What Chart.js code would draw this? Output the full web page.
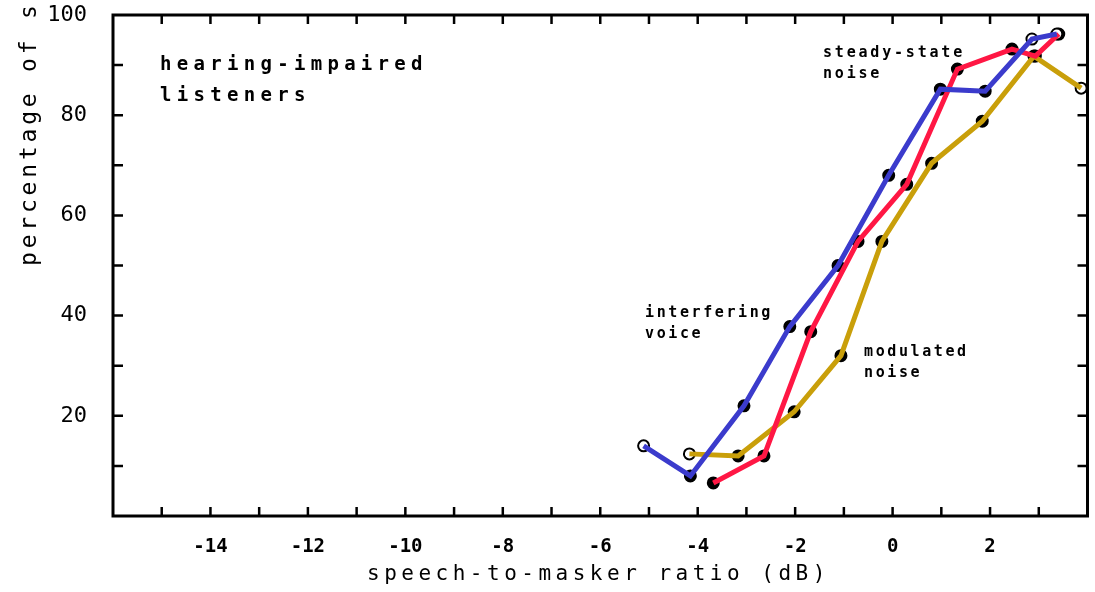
<!DOCTYPE html>
<html>
<head>
<meta charset="utf-8">
<script src="https://cdn.jsdelivr.net/npm/chart.js@4/dist/chart.umd.min.js"></script>
<style>
  html, body { margin: 0; padding: 0; background: #fff; }
  #wrap { width: 1095px; height: 592px; position: relative; }
</style>
</head>
<body>
<div id="wrap"><canvas id="smrChart"></canvas></div>
<script>
// speech-to-masker ratio (dB) / percentage correct, one pair of arrays per masker
const voiceSmr  = [-5.11, -4.15, -3.05, -2.11, -1.12, -0.08, 0.98, 1.90, 2.86, 3.37];
const voicePct  = [14.0, 8.0, 22.0, 37.8, 50.0, 68.0, 85.2, 84.8, 95.2, 96.2];

const steadySmr = [-3.68, -2.64, -1.68, -0.71, 0.29, 1.33, 2.45, 2.93, 3.41];
const steadyPct = [6.6, 12.0, 36.8, 54.8, 66.2, 89.2, 93.2, 91.8, 96.2];

const modSmr    = [-4.17, -3.17, -2.02, -1.06, -0.22, 0.80, 1.84, 2.90, 3.87];
const modPct    = [12.4, 12.0, 20.8, 32.0, 54.8, 70.4, 78.8, 91.8, 85.4];

// tick labels
const xTickLabels = [-14, -12, -10, -8, -6, -4, -2, 0, 2];
const yTickLabels = [20, 40, 60, 80, 100];

// open (hollow) markers, by index
const voiceOpen = [0, 8, 9];
const steadyOpen = [];
const modOpen = [0, 8];

const toXY = (xs, ys) => xs.map((x, i) => ({ x: x, y: ys[i] }));

function lineSet(label, xs, ys, color) {
    return {
        label: label,
        data: toXY(xs, ys),
        showLine: true,
        borderColor: color,
        borderWidth: 5,
        pointRadius: 0,
        fill: false,
        order: 1,
    };
}

function dotSet(label, xs, ys, open) {
    return {
        label: label,
        data: toXY(xs, ys),
        showLine: false,
        pointRadius: 5.5,
        pointBorderWidth: 2,
        pointBorderColor: '#000',
        pointBackgroundColor: c => open.includes(c.dataIndex) ? '#fff' : '#000',
        order: 2,
    };
}

const MONO = '"DejaVu Sans Mono", monospace';

function spacedText(ctx, text, x, y, font, spacing) {
    ctx.font = font + ' ' + MONO;
    ctx.letterSpacing = spacing + 'px';
    ctx.fillText(text, x, y);
}

// box around the plot with inward tick marks, plus the text labels
const framePlugin = {
    id: 'frame',
    afterDraw(chart) {
        const { ctx, chartArea: a, scales } = chart;
        ctx.save();
        ctx.strokeStyle = '#000';
        ctx.lineWidth = 3;
        ctx.strokeRect(a.left, a.top, a.right - a.left, a.bottom - a.top);
        ctx.lineWidth = 2.5;
        ctx.beginPath();
        scales.x.ticks.forEach(t => {
            const px = scales.x.getPixelForValue(t.value);
            if (px <= a.left + 2 || px >= a.right - 2) return;
            ctx.moveTo(px, a.bottom); ctx.lineTo(px, a.bottom - 9);
            ctx.moveTo(px, a.top); ctx.lineTo(px, a.top + 9);
        });
        scales.y.ticks.forEach(t => {
            const py = scales.y.getPixelForValue(t.value);
            if (py <= a.top + 2 || py >= a.bottom - 2) return;
            ctx.moveTo(a.left, py); ctx.lineTo(a.left + 10, py);
            ctx.moveTo(a.right, py); ctx.lineTo(a.right - 10, py);
        });
        ctx.stroke();

        ctx.fillStyle = '#000';
        ctx.textAlign = 'left';
        ctx.textBaseline = 'alphabetic';
        spacedText(ctx, 'hearing-impaired', 160, 70, 'bold 19px', 5.3);
        spacedText(ctx, 'listeners', 160, 101, 'bold 19px', 5.3);
        spacedText(ctx, 'steady-state', 823, 57, 'bold 15px', 2.8);
        spacedText(ctx, 'noise', 823, 78, 'bold 15px', 2.8);
        spacedText(ctx, 'interfering', 645, 317, 'bold 15px', 2.6);
        spacedText(ctx, 'voice', 645, 338, 'bold 15px', 2.6);
        spacedText(ctx, 'modulated', 864, 356, 'bold 15px', 2.6);
        spacedText(ctx, 'noise', 864, 377, 'bold 15px', 2.6);

        // axis titles
        spacedText(ctx, 'speech-to-masker ratio (dB)', 367, 580, '21px', 4.5);
        ctx.translate(36, 266);
        ctx.rotate(-Math.PI / 2);
        spacedText(ctx, 'percentage of s', 0, 0, '23px', 3.8);
        ctx.restore();
        ctx.letterSpacing = '0px';
    }
};

const ctx = document.getElementById('smrChart').getContext('2d');

const chart = new Chart(ctx, {
    type: 'scatter',
    data: {
        datasets: [
            lineSet('interfering voice', voiceSmr, voicePct, '#3b3bcc'),
            lineSet('steady-state noise', steadySmr, steadyPct, '#ff1744'),
            lineSet('modulated noise', modSmr, modPct, '#c99f0a'),
            dotSet('interfering voice data', voiceSmr, voicePct, voiceOpen),
            dotSet('steady-state noise data', steadySmr, steadyPct, steadyOpen),
            dotSet('modulated noise data', modSmr, modPct, modOpen),
        ]
    },
    options: {
        responsive: true,
        maintainAspectRatio: false,
        animation: false,
        layout: { padding: { top: 15, right: 5, bottom: 0, left: 0 } },
        plugins: {
            legend: { display: false },
            tooltip: { enabled: false },
        },
        scales: {
            x: {
                type: 'linear',
                min: -16,
                max: 4,
                grid: { display: false },
                border: { display: false },
                afterFit: s => {
                    s.height = 76;
                    s.paddingLeft = 0;
                    s.paddingRight = 0;
                },
                ticks: {
                    stepSize: 1,
                    autoSkip: false,
                    maxRotation: 0,
                    padding: 12,
                    color: '#000',
                    font: { family: MONO, size: 19, weight: 'bold' },
                    callback: v => xTickLabels.includes(v) ? String(v) : '',
                },
            },
            y: {
                min: 0,
                max: 100,
                grid: { display: false },
                border: { display: false },
                afterFit: s => {
                    s.width = 113;
                    s.paddingTop = 0;
                    s.paddingBottom = 0;
                },
                ticks: {
                    stepSize: 10,
                    padding: 18,
                    color: '#000',
                    font: { family: MONO, size: 22 },
                    callback: v => yTickLabels.includes(v) ? String(v) : '',
                },
            },
        },
    },
    plugins: [framePlugin],
});
</script>
</body>
</html>
